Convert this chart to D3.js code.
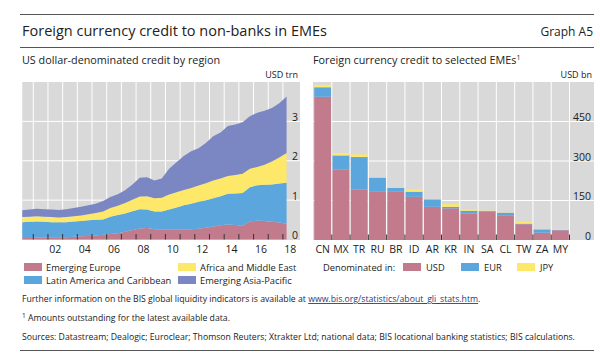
<!DOCTYPE html>
<html lang="en">
<head>
<meta charset="UTF-8">
<title>Graph A5</title>
<script src="https://cdn.jsdelivr.net/npm/d3@7"></script>
<style>
  body { margin: 0; background: #fff; }
  svg text { font-family: "Open Sans", "Noto Sans", sans-serif; fill: #222; }
</style>
</head>
<body>
<div id="container"></div>
<script>
  // Left panel: half-yearly observations, USD trn
  const dates = [2000.25, 2000.75, 2001.25, 2001.75, 2002.25, 2002.75, 2003.25, 2003.75,
    2004.25, 2004.75, 2005.25, 2005.75, 2006.25, 2006.75, 2007.25, 2007.75,
    2008.25, 2008.75, 2009.25, 2009.75, 2010.25, 2010.75, 2011.25, 2011.75,
    2012.25, 2012.75, 2013.25, 2013.75, 2014.25, 2014.75, 2015.25, 2015.75,
    2016.25, 2016.75, 2017.25, 2017.75, 2018.25];
  const emergingEurope = [0.04, 0.04, 0.05, 0.05, 0.06, 0.06, 0.06, 0.07, 0.08, 0.09, 0.10, 0.12,
    0.14, 0.16, 0.20, 0.24, 0.28, 0.29, 0.26, 0.25, 0.25, 0.25, 0.25, 0.26, 0.27, 0.30,
    0.33, 0.36, 0.38, 0.37, 0.35, 0.46, 0.48, 0.47, 0.45, 0.43, 0.40];
  const latinAmerica = [0.40, 0.41, 0.41, 0.40, 0.38, 0.38, 0.38, 0.39, 0.39, 0.40, 0.40, 0.39,
    0.44, 0.46, 0.46, 0.48, 0.49, 0.47, 0.45, 0.46, 0.51, 0.56, 0.62, 0.65, 0.69, 0.70,
    0.72, 0.74, 0.78, 0.80, 0.83, 0.87, 0.90, 0.92, 0.95, 0.99, 1.04];
  const africaMiddleEast = [0.13, 0.13, 0.13, 0.13, 0.13, 0.12, 0.13, 0.13, 0.14, 0.15, 0.17, 0.20,
    0.22, 0.24, 0.27, 0.29, 0.32, 0.34, 0.34, 0.35, 0.38, 0.39, 0.39, 0.40, 0.41, 0.43,
    0.45, 0.45, 0.45, 0.47, 0.49, 0.47, 0.46, 0.51, 0.58, 0.66, 0.76];
  const asiaPacific = [0.17, 0.18, 0.19, 0.19, 0.19, 0.19, 0.20, 0.21, 0.22, 0.23, 0.24, 0.27,
    0.28, 0.29, 0.32, 0.39, 0.48, 0.48, 0.45, 0.49, 0.66, 0.76, 0.86, 0.93, 0.95, 1.02,
    1.12, 1.17, 1.27, 1.28, 1.31, 1.33, 1.38, 1.37, 1.36, 1.38, 1.43];
  const leftYTicks = [0, 1, 2, 3];
  const leftXLabels = ["02", "04", "06", "08", "10", "12", "14", "16", "18"];

  // Right panel: USD bn
  const countries = ["CN", "MX", "TR", "RU", "BR", "ID", "AR", "KR", "IN", "SA", "CL", "TW", "ZA", "MY"];
  const usd = [544, 267, 192, 185, 185, 164, 126, 120, 101, 109, 92, 60, 28, 37];
  const eur = [36, 54, 123, 52, 13, 19, 28, 6, 10, 1, 11, 2, 12, 1];
  const jpy = [9, 9, 10, 2, 2, 10, 1, 10, 5, 1, 1, 7, 1, 2];
  const rightYTicks = [0, 150, 300, 450];

  const pink = "#c27a8d", blue = "#5aa6dd", yellow = "#fde869", purple = "#7b87c3";
  const bg = "#d9d9d9";

  const width = 600, height = 364;
  const svg = d3.select("#container").append("svg")
    .attr("width", width).attr("height", height)
    .attr("viewBox", [0, 0, width, height]);

  // header
  svg.append("line").attr("x1", 20).attr("x2", 594).attr("y1", 14.5).attr("y2", 14.5)
    .attr("stroke", "#555").attr("stroke-width", 1);
  svg.append("text").attr("x", 22).attr("y", 36).attr("font-size", 14.5)
    .text("Foreign currency credit to non-banks in EMEs");
  svg.append("text").attr("x", 593).attr("y", 36).attr("font-size", 12).attr("text-anchor", "end")
    .text("Graph A5");
  svg.append("line").attr("x1", 20).attr("x2", 594).attr("y1", 47.5).attr("y2", 47.5)
    .attr("stroke", "#555").attr("stroke-width", 1);
  svg.append("text").attr("x", 22).attr("y", 64).attr("font-size", 10.8)
    .text("US dollar-denominated credit by region");
  const st = svg.append("text").attr("x", 313).attr("y", 64).attr("font-size", 10.8)
    .text("Foreign currency credit to selected EMEs");
  st.append("tspan").attr("font-size", 7).attr("dy", -4).text("1");
  svg.append("text").attr("x", 298).attr("y", 78).attr("font-size", 9).attr("text-anchor", "end")
    .attr("fill", "#555").text("USD trn");
  svg.append("text").attr("x", 592).attr("y", 78).attr("font-size", 9).attr("text-anchor", "end")
    .attr("fill", "#555").text("USD bn");

  // ---- left panel ----
  const x = d3.scaleLinear().domain([2000, 2019]).range([18.6, 297.6]);
  const y = d3.scaleLinear().domain([0, 4]).range([239.5, 82]);
  const left = svg.append("g");
  left.append("rect").attr("x", x(dates[0])).attr("y", 82)
    .attr("width", 300 - x(dates[0])).attr("height", 158).attr("fill", bg);
  left.append("g").selectAll("line").data(d3.range(2001, 2019)).join("line")
    .attr("x1", d => x(d)).attr("x2", d => x(d)).attr("y1", 82).attr("y2", 240)
    .attr("stroke", "#fff").attr("stroke-width", 1);
  left.append("g").selectAll("line").data(leftYTicks.slice(1)).join("line")
    .attr("x1", x(dates[0])).attr("x2", 300).attr("y1", d => y(d)).attr("y2", d => y(d))
    .attr("stroke", "#fff").attr("stroke-width", 1);

  const rows = dates.map((d, i) => ({
    date: d, eu: emergingEurope[i], la: latinAmerica[i], af: africaMiddleEast[i], ap: asiaPacific[i]
  }));
  const keys = ["eu", "la", "af", "ap"];
  const colors = { eu: pink, la: blue, af: yellow, ap: purple };
  const stacked = d3.stack().keys(keys)(rows);
  const area = d3.area().x(d => x(d.data.date)).y0(d => y(d[0])).y1(d => y(d[1]));
  left.append("g").selectAll("path").data(stacked).join("path")
    .attr("d", area).attr("fill", d => colors[d.key]);

  left.append("g").selectAll("line").data(d3.range(2001, 2019)).join("line")
    .attr("x1", d => x(d)).attr("x2", d => x(d)).attr("y1", 234).attr("y2", 239.5)
    .attr("stroke", "#333").attr("stroke-width", 1);
  left.append("g").selectAll("text").data(leftXLabels).join("text")
    .attr("x", d => x(2000 + (+d) + 0.5)).attr("y", 253).attr("font-size", 10.5)
    .attr("text-anchor", "middle").text(d => d);
  left.append("g").selectAll("text").data(leftYTicks).join("text")
    .attr("x", 298).attr("y", d => y(d) - 0.5).attr("font-size", 10.5)
    .attr("text-anchor", "end").text(d => d);

  // ---- right panel ----
  const xb = d3.scaleBand().domain(countries).range([313.5, 569.5]).paddingInner(0.08).paddingOuter(0.04);
  const yb = d3.scaleLinear().domain([0, 600]).range([240, 82]);
  const right = svg.append("g");
  right.append("rect").attr("x", 313).attr("y", 82).attr("width", 281).attr("height", 158).attr("fill", bg);
  const step = xb.step();
  const bounds = countries.map(c => xb(c) + xb.bandwidth() + step * xb.paddingInner() / 2);
  right.append("g").selectAll("line").data(bounds).join("line")
    .attr("x1", d => d).attr("x2", d => d).attr("y1", 82).attr("y2", 240)
    .attr("stroke", "#fff").attr("stroke-width", 1);
  right.append("g").selectAll("line").data(rightYTicks.slice(1)).join("line")
    .attr("x1", 313).attr("x2", 594).attr("y1", d => yb(d)).attr("y2", d => yb(d))
    .attr("stroke", "#fff").attr("stroke-width", 1);

  const brows = countries.map((c, i) => ({ c, usd: usd[i], eur: eur[i], jpy: jpy[i] }));
  const bkeys = ["usd", "eur", "jpy"];
  const bcolors = { usd: pink, eur: blue, jpy: yellow };
  const bstack = d3.stack().keys(bkeys)(brows);
  right.append("g").selectAll("g").data(bstack).join("g")
    .attr("fill", d => bcolors[d.key])
    .selectAll("rect").data(d => d).join("rect")
    .attr("x", d => xb(d.data.c)).attr("width", xb.bandwidth())
    .attr("y", d => yb(d[1])).attr("height", d => yb(d[0]) - yb(d[1]));

  right.append("g").selectAll("line").data(bounds).join("line")
    .attr("x1", d => d).attr("x2", d => d).attr("y1", 234.5).attr("y2", 240)
    .attr("stroke", "#333").attr("stroke-width", 1);
  right.append("g").selectAll("text").data(countries).join("text")
    .attr("x", d => xb(d) + xb.bandwidth() / 2).attr("y", 253).attr("font-size", 10.5)
    .attr("text-anchor", "middle").text(d => d);
  right.append("g").selectAll("text").data(rightYTicks).join("text")
    .attr("x", 591).attr("y", d => yb(d) - 0.5).attr("font-size", 10.5)
    .attr("text-anchor", "end").text(d => d);

  // ---- legends ----
  const leftLegend = [
    { label: "Emerging Europe", color: pink, x: 24, y: 267 },
    { label: "Latin America and Caribbean", color: blue, x: 24, y: 280 },
    { label: "Africa and Middle East", color: yellow, x: 178, y: 267 },
    { label: "Emerging Asia-Pacific", color: purple, x: 178, y: 280 }
  ];
  const lg = svg.append("g").selectAll("g").data(leftLegend).join("g");
  lg.append("rect").attr("x", d => d.x).attr("y", d => d.y - 4).attr("width", 18).attr("height", 8)
    .attr("fill", d => d.color);
  lg.append("text").attr("x", d => d.x + 22).attr("y", d => d.y + 3.5).attr("font-size", 9.3)
    .text(d => d.label);

  svg.append("text").attr("x", 323).attr("y", 270.5).attr("font-size", 9.3).text("Denominated in:");
  const rightLegend = [
    { label: "USD", color: pink, x: 403 },
    { label: "EUR", color: blue, x: 461 },
    { label: "JPY", color: yellow, x: 517 }
  ];
  const rg = svg.append("g").selectAll("g").data(rightLegend).join("g");
  rg.append("rect").attr("x", d => d.x).attr("y", 263).attr("width", 18).attr("height", 8)
    .attr("fill", d => d.color);
  rg.append("text").attr("x", d => d.x + 23).attr("y", 270.5).attr("font-size", 9.3)
    .text(d => d.label);

  // ---- footnotes ----
  const f1 = svg.append("text").attr("x", 22).attr("y", 302).attr("font-size", 8.7);
  f1.append("tspan").text("Further information on the BIS global liquidity indicators is available at ");
  f1.append("tspan").attr("fill", "#1f3a7a").attr("text-decoration", "underline")
    .text("www.bis.org/statistics/about_gli_stats.htm");
  f1.append("tspan").text(".");
  const f2 = svg.append("text").attr("x", 22).attr("y", 321).attr("font-size", 8.7);
  f2.append("tspan").attr("font-size", 6.5).attr("dy", -3).text("1");
  f2.append("tspan").attr("dy", 3).text("  Amounts outstanding for the latest available data.");
  svg.append("text").attr("x", 22).attr("y", 340).attr("font-size", 8.7)
    .text("Sources: Datastream; Dealogic; Euroclear; Thomson Reuters; Xtrakter Ltd; national data; BIS locational banking statistics; BIS calculations.");
  svg.append("line").attr("x1", 20).attr("x2", 594).attr("y1", 350.5).attr("y2", 350.5)
    .attr("stroke", "#555").attr("stroke-width", 1);
</script>
</body>
</html>
